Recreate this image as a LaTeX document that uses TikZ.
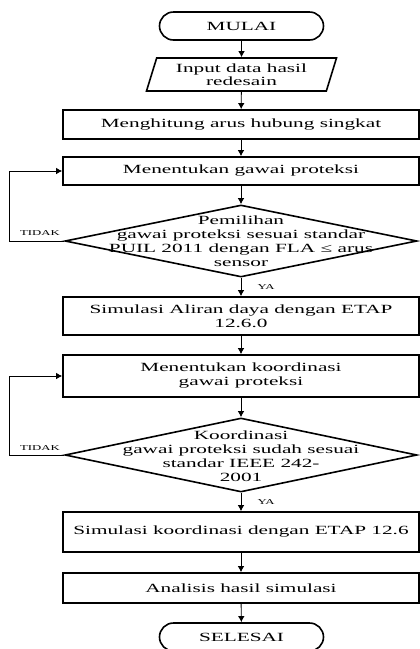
\documentclass[tikz,border=0pt]{standalone}
\usepackage{fontspec}
\setmainfont{Liberation Serif}[FakeStretch=1.7]
\usepackage{tikz}
\usetikzlibrary{positioning}
\usetikzlibrary{shapes.geometric,shapes.misc}
\usetikzlibrary{arrows.meta}
\tikzset{>={Latex[length=6pt,width=6.5pt]}}
\tikzset{
  teks/.style={font=\fontsize{12.5}{14}\selectfont},
  prosesbox/.style={draw, line width=1.6pt, minimum width=356pt, inner sep=0pt, align=center, teks},
  terminal/.style={draw, rounded rectangle, line width=1.6pt, minimum width=164pt, minimum height=28pt, inner sep=0pt, teks},
  inputbox/.style={draw, trapezium, trapezium left angle=65, trapezium right angle=115,
    trapezium stretches body, line width=1.6pt, minimum width=190pt, minimum height=33pt,
    inner sep=0pt, align=center, font=\fontsize{12.5}{13}\selectfont},
  keputusan/.style={draw, diamond, line width=1.6pt, minimum width=352pt, minimum height=72pt, inner sep=0pt},
  dteks/.style={align=center, inner sep=0pt, teks},
  kecil/.style={font=\fontsize{7.5}{9}\selectfont, inner sep=0pt},
  alur/.style={->, line width=0.9pt}
}

\begin{document}
\begin{tikzpicture}[x=1pt,y=-1pt]
\useasboundingbox (0,0) rectangle (420,649);

% ================= Awal =================
\node[terminal] (mulai) at (241.5,26) {MULAI};
\node[inputbox] (input) at (241.5,74.5) {Input data hasil\\redesain};
\node[prosesbox, minimum height=29pt] (hitung) at (241,124.5) {Menghitung arus hubung singkat};
\node[prosesbox, minimum height=28pt] (gawai) at (241,171) {Menentukan gawai proteksi};

% ================= Keputusan #1 =================
\node[keputusan] (pilih) at (241,241) {};
\node[dteks] (pilihteks) at (241,241) {Pemilihan\\gawai proteksi sesuai standar\\PUIL 2011 dengan FLA ≤ arus\\sensor};

\node[prosesbox, minimum height=38pt] (aliran) at (241,316) {Simulasi Aliran daya dengan ETAP\\12.6.0};
\node[prosesbox, minimum height=42pt] (koord) at (241,376) {Menentukan koordinasi\\gawai proteksi};

% ================= Keputusan #2 =================
\node[keputusan, minimum height=74pt] (sesuai) at (241,455) {};
\node[dteks] (sesuaiteks) at (241,456) {Koordinasi\\gawai proteksi sudah sesuai\\standar IEEE 242-\\2001};

\node[prosesbox, minimum height=40pt] (simkoord) at (241,532) {Simulasi koordinasi dengan ETAP 12.6};
\node[prosesbox, minimum height=30pt] (analisis) at (241,588) {Analisis hasil simulasi};
\node[terminal] (selesai) at (241.5,637) {SELESAI};

% ================= Label =================
\node[kecil] (tidak1) at (40,233) {TIDAK};
\node[kecil] (ya1) at (266,287) {YA};
\node[kecil] (tidak2) at (40,448) {TIDAK};
\node[kecil] (ya2) at (266,502) {YA};

% ================= Alur =================
\draw[alur] (mulai) -- (input);
\draw[alur] (input) -- (hitung);
\draw[alur] (hitung) -- (gawai);
\draw[alur] (gawai) -- (pilih);
\draw[alur] (pilih) -- (aliran);
\draw[alur] (aliran) -- (koord);
\draw[alur] (koord) -- (sesuai);
\draw[alur] (sesuai) -- (simkoord);
\draw[alur] (simkoord) -- (analisis);
\draw[alur] (analisis) -- (selesai);

% Umpan balik
\draw[alur] (pilih.west) -- ++(-55,0) |- (gawai.west);
\draw[alur] (sesuai.west) -- ++(-55,0) |- (koord.west);

\end{tikzpicture}
\end{document}
